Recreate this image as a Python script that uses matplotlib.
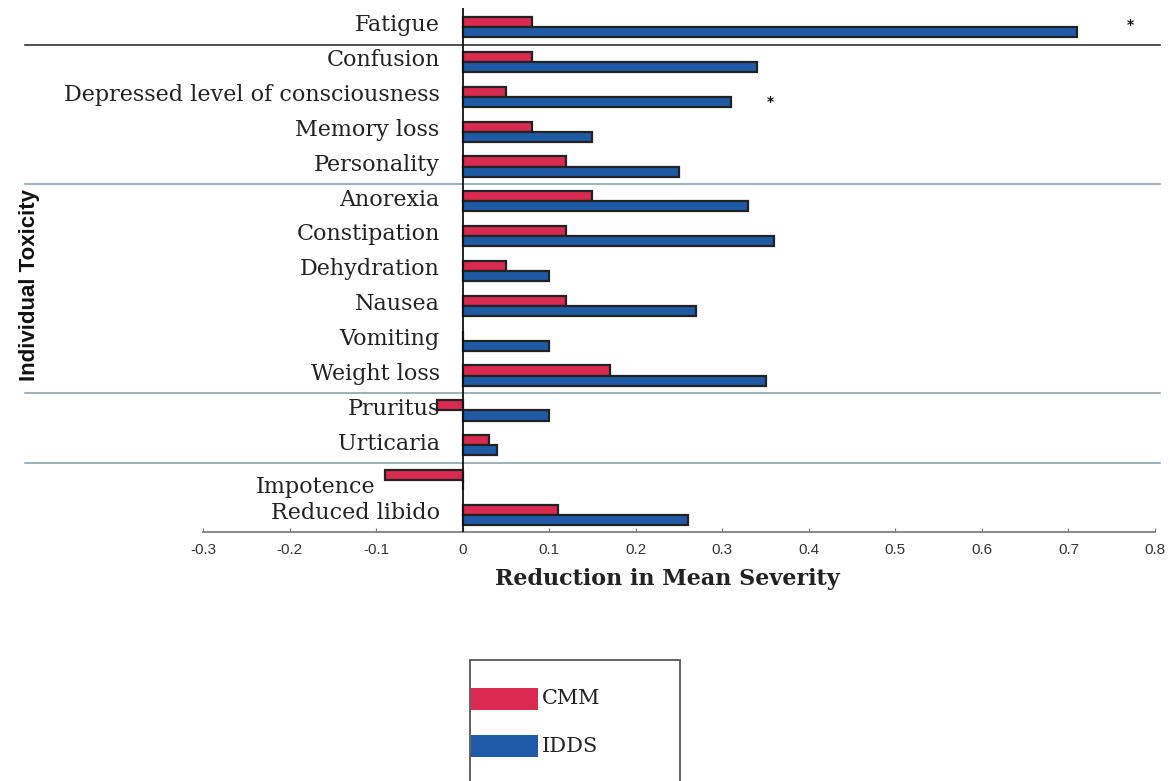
import matplotlib
matplotlib.use("Agg")
import matplotlib.pyplot as plt
import numpy as np
from matplotlib.patches import Rectangle
from matplotlib import transforms

categories = ["Fatigue", "Confusion", "Depressed level of consciousness",
              "Memory loss", "Personality", "Anorexia", "Constipation",
              "Dehydration", "Nausea", "Vomiting", "Weight loss",
              "Pruritus", "Urticaria", "Impotence", "Reduced libido"]
cmm = [0.08, 0.08, 0.05, 0.08, 0.12, 0.15, 0.12, 0.05, 0.12, 0.0, 0.17,
       -0.03, 0.03, -0.09, 0.11]
idds = [0.71, 0.34, 0.31, 0.15, 0.25, 0.33, 0.36, 0.10, 0.27, 0.10, 0.35,
        0.10, 0.04, 0.0, 0.26]
xticks = [-0.3, -0.2, -0.1, 0, 0.1, 0.2, 0.3, 0.4, 0.5, 0.6, 0.7, 0.8]
xtick_labels = ["-0.3", "-0.2", "-0.1", "0", "0.1", "0.2", "0.3", "0.4",
                "0.5", "0.6", "0.7", "0.8"]
significant = {"Fatigue": (0.772, -0.05),
               "Depressed level of consciousness": (0.355, 0.15)}
group_breaks = [0.5, 4.5, 10.5, 12.5]

RED = "#DA2A4F"
BLUE = "#1F5AA6"

W, H = 1174, 781
fig = plt.figure(figsize=(W / 100, H / 100), dpi=100)
ax = fig.add_axes([203 / W, 1 - 532 / H, (1155 - 203) / W, (532 - 8) / H])

rows = np.arange(len(categories))
bh = 0.29
ax.barh(rows - bh / 2, cmm, height=bh, color=RED, edgecolor="#222222",
        linewidth=1.6, zorder=3)
ax.barh(rows + bh / 2, idds, height=bh, color=BLUE, edgecolor="#222222",
        linewidth=1.6, zorder=3)

ax.set_xlim(-0.3, 0.8)
ax.set_ylim(len(categories) - 0.51, -0.55)
ax.set_xticks(xticks)
ax.set_xticklabels(xtick_labels, family="Liberation Sans", fontsize=11,
                   color="#333333")
ax.tick_params(axis="x", direction="in", length=3, pad=8, color="#777777")
ax.set_yticks([])
for s in ["top", "right", "left"]:
    ax.spines[s].set_visible(False)
ax.spines["bottom"].set_color("#777777")
ax.spines["bottom"].set_linewidth(1.2)
ax.axvline(0, color="#111111", linewidth=1.3, zorder=4)

# category labels to the left of the zero line
lab_tr = transforms.offset_copy(ax.transData, fig=fig, x=-23, y=0, units="dots")
for i, name in enumerate(categories):
    x, y = 0, i - 0.05
    if name == "Impotence":
        x, y = -0.074, i + 0.2
    ax.text(x, y, name, transform=lab_tr, ha="right", va="center",
            family="DejaVu Serif", fontsize=16, color="#222222", zorder=2)

# group separator lines spanning the full width
sep_tr = transforms.blended_transform_factory(fig.transFigure, ax.transData)
for k, yb in enumerate(group_breaks):
    ax.plot([25 / W, 1160 / W], [yb, yb], transform=sep_tr, clip_on=False,
            color="#333333" if k == 0 else "#8AA6B0", linewidth=1.2, zorder=1)

# significance markers
for name, (xv, dy) in significant.items():
    i = categories.index(name)
    ax.text(xv, i + dy, "*", ha="center", va="center", fontsize=10,
            color="#111111", fontweight="bold")

ax.set_xlabel("Reduction in Mean Severity", family="DejaVu Serif",
              fontsize=16, fontweight="bold", color="#222222", labelpad=6)
ax.xaxis.set_label_coords((667 - 203) / (1155 - 203), -0.068)
fig.text(30 / W, 1 - 285 / H, "Individual Toxicity", rotation=90,
         ha="center", va="center", fontsize=16, fontweight="bold",
         family=["Liberation Sans"], color="#111111")

# legend box, running off the bottom edge
fig.patches.append(Rectangle((470 / W, -0.05), 210 / W, 1 - 660 / H + 0.05,
                             transform=fig.transFigure, facecolor="white",
                             edgecolor="#555555", linewidth=1.3))
for k, (lab, col) in enumerate([("CMM", RED), ("IDDS", BLUE)]):
    yc = 699 + 47 * k
    fig.patches.append(Rectangle((471 / W, 1 - (yc + 11) / H), 67 / W, 22 / H,
                                 transform=fig.transFigure, facecolor=col,
                                 edgecolor="none"))
    fig.text(542 / W, 1 - yc / H, lab, ha="left", va="center",
             family="DejaVu Serif", fontsize=15, color="#222222")

fig.savefig("out.png", dpi=100)
